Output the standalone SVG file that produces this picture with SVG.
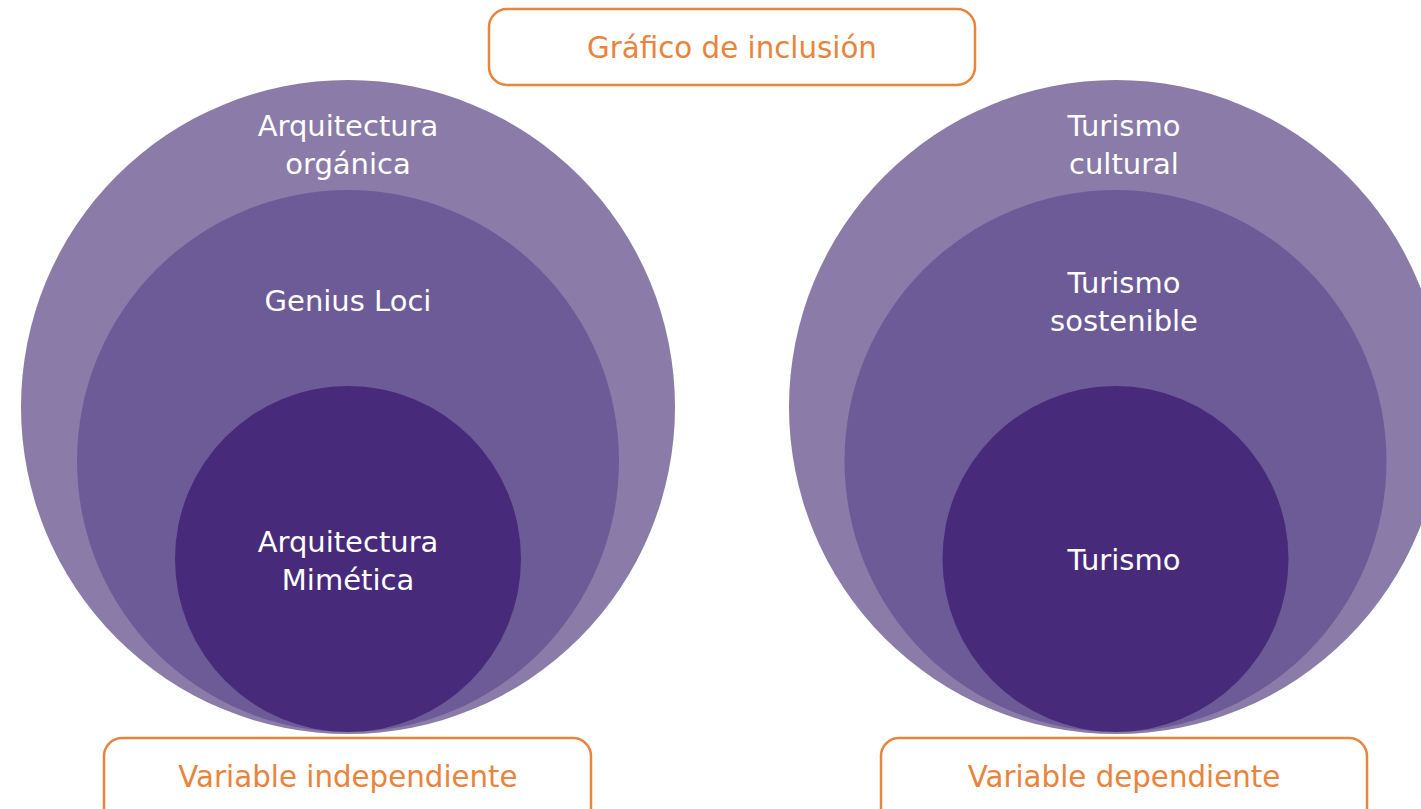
<svg xmlns="http://www.w3.org/2000/svg" width="1421" height="809" viewBox="0 0 1421 809">
<style>
.c1{fill:#8a7ba9}
.c2{fill:#6d5b97}
.c3{fill:#472b7a}
.lbl{fill:#ffffff;font-family:"DejaVu Sans",sans-serif;font-size:29px;text-anchor:middle}
.box{fill:#ffffff;stroke:#e8843c;stroke-width:2.5}
.otxt{fill:#e8843c;font-family:"DejaVu Sans",sans-serif;font-size:29.3px;text-anchor:middle}
</style>
<rect width="1421" height="809" fill="#ffffff"/>
<g id="title">
<rect class="box" x="489" y="9" width="486" height="76" rx="18"/>
<text class="otxt" x="732" y="58">Gráfico de inclusión</text>
</g>
<g id="left-outer">
<circle class="c1" cx="348" cy="407" r="327"/>
<text class="lbl" x="348" y="136">Arquitectura</text>
<text class="lbl" x="348" y="174">orgánica</text>
</g>
<g id="left-middle">
<circle class="c2" cx="348" cy="461" r="271"/>
<text class="lbl" x="348" y="311">Genius Loci</text>
</g>
<g id="left-inner">
<circle class="c3" cx="348" cy="559" r="173"/>
<text class="lbl" x="348" y="552">Arquitectura</text>
<text class="lbl" x="348" y="590">Mimética</text>
</g>
<g id="right-outer">
<circle class="c1" cx="1116" cy="407" r="327"/>
<text class="lbl" x="1124" y="136">Turismo</text>
<text class="lbl" x="1124" y="174">cultural</text>
</g>
<g id="right-middle">
<circle class="c2" cx="1115.5" cy="461" r="271"/>
<text class="lbl" x="1124" y="293">Turismo</text>
<text class="lbl" x="1124" y="331">sostenible</text>
</g>
<g id="right-inner">
<circle class="c3" cx="1115.5" cy="559" r="173"/>
<text class="lbl" x="1124" y="570">Turismo</text>
</g>
<g id="var-indep">
<rect class="box" x="104" y="738" width="487" height="90" rx="18"/>
<text class="otxt" x="348" y="787">Variable independiente</text>
</g>
<g id="var-dep">
<rect class="box" x="881" y="738" width="486" height="90" rx="18"/>
<text class="otxt" x="1124" y="787">Variable dependiente</text>
</g>
<g id="connectors"/>
</svg>
